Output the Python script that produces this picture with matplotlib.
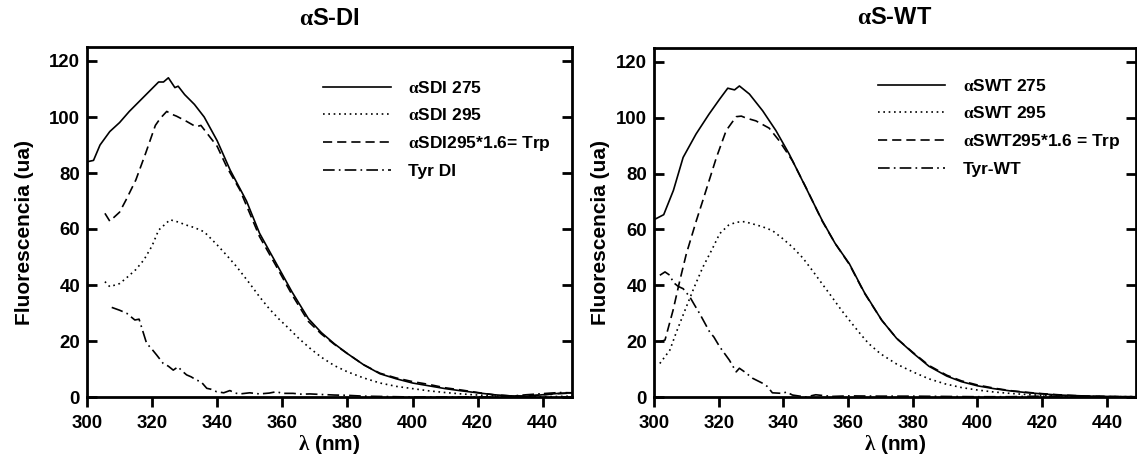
import matplotlib
matplotlib.use("Agg")
import matplotlib.pyplot as plt

plt.rcParams['font.family'] = ['Liberation Sans', 'DejaVu Sans']
plt.rcParams['font.weight'] = 'bold'
plt.rcParams['mathtext.fontset'] = 'custom'
plt.rcParams['mathtext.rm'] = 'Liberation Serif'
plt.rcParams['mathtext.it'] = 'Liberation Serif:italic'
plt.rcParams['mathtext.bf'] = 'Liberation Serif:bold'

# ---------------- data: alpha S-DI ----------------
titles = [r'$\mathrm{\alpha}$S-DI', r'$\mathrm{\alpha}$S-WT']

sdi275_x = [300, 302, 304, 307, 310, 313, 316, 319, 322, 323.5, 325, 327, 328, 330, 333, 336, 340, 344, 349,
            353, 358, 363, 368, 372, 376, 380, 385, 390, 395, 400, 405, 410, 415, 420, 425, 430, 435, 440, 445, 449]
sdi275_y = [84, 84.5, 90, 94.8, 98, 102, 105.5, 109, 112.5, 112.5, 114, 110.5, 111, 108, 104.5, 100, 91.5, 81, 70,
            58.5, 48, 37.5, 28, 23, 19, 15.5, 11.5, 8.3, 6.5, 5, 4, 3, 2.2, 1.5, 0.8, 0.4, 0.3, 0.8, 1.3, 1.5]

sdi295_x = [305.5, 307, 310, 312, 315, 317.5, 320, 322, 325.5, 328, 330.5, 333, 336, 340, 343, 346, 350, 353, 356,
            359, 362, 365, 368.5, 372, 376, 380, 385, 390, 395, 400, 405, 410, 415, 420, 425, 430, 435, 440, 445, 449]
sdi295_y = [41.2, 39.4, 40.5, 42.4, 45.5, 49, 54, 59.6, 63.3, 62.5, 61.4, 60.5, 59, 54.3, 50.5, 46.5, 40.5, 35.8, 31.5,
            27.8, 24.5, 21, 17.4, 14.2, 11.2, 9, 6.8, 5, 3.8, 3, 2.2, 1.6, 1.1, 0.7, 0.4, 0.2, 0.1, 0.1, 0.2, 0.3]

sdi_trp_x = [305.5, 307, 310, 312, 315, 318, 321, 322.5, 324.5, 326, 327.5, 330.5, 333.5, 335, 337, 340, 343, 347,
             353, 358, 363, 368, 372, 376, 380, 385, 390, 395, 400, 405, 410, 415, 420, 425, 430, 435, 440, 445, 449]
sdi_trp_y = [65.6, 62.8, 66, 70.4, 77.5, 87, 97, 99.5, 102, 101, 100.3, 98.5, 96.5, 97, 94, 89.5, 82, 73.9,
             57.3, 47, 36.5, 27, 22.5, 18.8, 15.5, 11.5, 8.5, 6.8, 5.5, 4.5, 3.3, 2.5, 1.6, 0.8, 0.4, 0.3, 0.8, 1.2, 1.4]

tyr_di_x = [307.6, 310, 312.2, 314.7, 316, 318.3, 320, 321.4, 323.4, 325, 326.5, 328, 329, 330.6, 332, 333.7, 335,
            336.8, 338, 339.8, 342, 343.9, 345.5, 347, 350, 353, 356, 358.2, 360, 363.3, 366, 368.5, 372, 376, 380,
            385, 390, 395, 400, 410, 420, 425, 430, 435, 440, 445, 449]
tyr_di_y = [32, 31, 29.9, 27.5, 27.8, 19.2, 17, 15, 12, 11, 9.6, 10.8, 9.5, 7.9, 7.2, 6, 5.5,
            3.1, 2.8, 1.9, 1.5, 2.3, 1.4, 1.1, 1.5, 1.1, 1.4, 1.9, 1.3, 1.3, 1.0, 1.1, 0.9, 0.7, 0.6,
            0.3, 0.2, 0.1, 0.0, 0.0, 0.0, 0.1, 0.3, 0.8, 1.2, 1.6, 1.5]

# ---------------- data: alpha S-WT ----------------
swt275_x = [300, 303, 306, 309, 313, 317, 320.3, 322.8, 324.9, 326.4, 329.5, 333.6, 337.7, 341.8, 346.9, 352, 356,
            360.4, 365, 370.4, 375, 380, 385, 390.5, 395, 400, 405, 410, 415, 420, 425, 430, 435, 440, 445, 449]
swt275_y = [63.5, 65.3, 74, 85.8, 94.2, 101.3, 106.7, 110.6, 110, 111.4, 108.5, 102.5, 95.4, 87, 75.1, 63.2, 55,
            47.7, 37.5, 27.5, 21, 15.8, 11, 7.5, 5.5, 4, 3, 2.2, 1.6, 1.1, 0.7, 0.5, 0.3, 0.2, 0.1, 0.1]

swt295_x = [301.8, 304.9, 307, 310, 312.5, 315.1, 318, 320.3, 323, 325.4, 328, 330.5, 333.5, 336.6, 339.5, 342.8,
            346, 348.9, 352, 355, 358, 361.2, 364, 366.3, 370, 375, 380, 385, 390, 395, 400, 405, 410, 415, 420,
            425, 430, 435, 440, 445, 449]
swt295_y = [12, 16.8, 23.5, 32.3, 39.5, 46.5, 53, 58.5, 61.5, 62.6, 62.8, 62, 61, 59.6, 57, 53.7,
            49.8, 45.4, 40.5, 35.8, 31, 26.3, 22.3, 19.2, 15.5, 11.8, 9, 6.5, 4.7, 3.4, 2.5, 1.8, 1.3, 0.9, 0.6,
            0.4, 0.3, 0.2, 0.1, 0.1, 0.1]

swt_trp_x = [301.8, 303.4, 305.9, 308, 310, 313.1, 315.1, 319.3, 322.3, 325.4, 327, 328.5, 331.5, 335.6, 338.7,
             342.8, 347, 352, 356, 360.4, 365, 370.4, 375, 380, 385, 390.5, 395, 400, 405, 410, 415, 420, 425, 430,
             435, 440, 445, 449]
swt_trp_y = [19.75, 20.4, 31.1, 41.8, 51.3, 63.2, 70.4, 85.8, 95.4, 100.4, 100.6, 99.9, 98.9, 96.3, 91.8,
             84.6, 75, 63, 55, 47.5, 37.3, 27.5, 21, 16, 11.3, 7.8, 5.8, 4.3, 3.2, 2.3, 1.7, 1.2, 0.8, 0.5,
             0.3, 0.2, 0.1, 0.1]

tyr_wt_x = [301.8, 303.4, 304.9, 306, 307.5, 309, 311.1, 312.5, 314.1, 317.2, 318.5, 320.3, 323.3, 325.4, 326.4,
            328, 330.5, 333.6, 335, 336.6, 339.7, 341, 342.8, 346.9, 350, 355, 360, 370, 380, 390, 400, 410, 420,
            430, 440, 449]
tyr_wt_y = [43.6, 44.8, 43.6, 41, 39.6, 38.8, 35.8, 33, 29.9, 23.3, 21.5, 18, 13.2, 9, 10.3,
            9, 6.7, 4.9, 3.8, 1.5, 1.3, 1.8, 0.7, 0, 0.8, 0.2, 0.4, 0.3, 0.3, 0.2, 0.1, 0.1, 0.3,
            0.2, 0.1, 0.1]

labels_di = [r'$\mathrm{\alpha}$SDI 275', r'$\mathrm{\alpha}$SDI 295',
             r'$\mathrm{\alpha}$SDI295*1.6= Trp', 'Tyr DI']
labels_wt = [r'$\mathrm{\alpha}$SWT 275', r'$\mathrm{\alpha}$SWT 295',
             r'$\mathrm{\alpha}$SWT295*1.6 = Trp', 'Tyr-WT']

x_ticks = [300, 320, 340, 360, 380, 400, 420, 440]
y_ticks = [0, 20, 40, 60, 80, 100, 120]

series = [
    [(sdi275_x, sdi275_y), (sdi295_x, sdi295_y), (sdi_trp_x, sdi_trp_y), (tyr_di_x, tyr_di_y)],
    [(swt275_x, swt275_y), (swt295_x, swt295_y), (swt_trp_x, swt_trp_y), (tyr_wt_x, tyr_wt_y)],
]
all_labels = [labels_di, labels_wt]

styles = ['-', (0, (1, 2.2)), (0, (5.5, 3)), (0, (7, 2.5, 1, 2.5))]

W, H = 1137, 457
fig = plt.figure(figsize=(W / 100, H / 100), dpi=100)

axes_px = [(87, 47, 485, 350), (654, 48, 482, 349)]
ylabel_x = [25, 600]
legend_anchor = [(0.487, 0.905), (0.464, 0.913)]

for i, (lx, ty, w, h) in enumerate(axes_px):
    ax = fig.add_axes([lx / W, (H - ty - h) / H, w / W, h / H])
    for (xs, ys), ls, lab in zip(series[i], styles, all_labels[i]):
        ax.plot(xs, ys, color='black', lw=1.2, linestyle=ls, label=lab)
    ax.set_xlim(300, 449)
    ax.set_ylim(0, 125)
    ax.set_xticks(x_ticks)
    ax.set_yticks(y_ticks)
    for s in ax.spines.values():
        s.set_linewidth(2.0)
    ax.tick_params(axis='x', direction='out', length=7, width=2, labelsize=13.4, pad=6)
    ax.tick_params(axis='y', direction='in', length=7, width=2, labelsize=13.4, pad=5,
                   right=True)
    for t in ax.get_xticklabels() + ax.get_yticklabels():
        t.set_fontweight('bold')
    ax.set_ylabel('Fluorescencia (ua)', fontsize=15, fontweight='bold')
    ax.yaxis.set_label_coords((ylabel_x[i] - lx) / w, 0.47)
    ax.yaxis.label.set_va('center')
    ax.set_xlabel(r'$\mathrm{\lambda}$ (nm)', fontsize=15, fontweight='bold')
    ax.xaxis.set_label_coords(0.5, (ty + h - 456) / h)
    ax.xaxis.label.set_va('bottom')
    ax.text(0.5, 1 + (ty - 18) / h, titles[i], transform=ax.transAxes, ha='center', va='center',
            fontsize=17, fontweight='bold')
    leg = ax.legend(loc='upper left', bbox_to_anchor=legend_anchor[i], frameon=False,
                    prop={'size': 12.5, 'weight': 'bold'}, handlelength=3.9, handletextpad=1.0,
                    labelspacing=0.62, borderpad=0, borderaxespad=0)

fig.savefig('out.png', dpi=100)
